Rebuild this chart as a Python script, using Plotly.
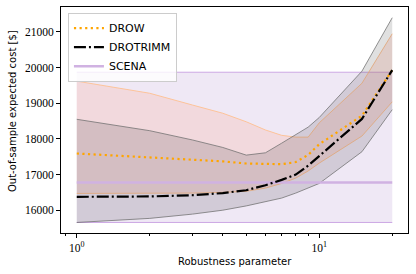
import math
import plotly.graph_objects as go

# ---------------- data ----------------
robustness = [1, 2, 3, 4, 5, 6, 7, 8, 9, 10, 15, 20]

drow_mean = [17590, 17480, 17420, 17370, 17310, 17290, 17290, 17350, 17550, 17850, 18650, 19930]
drow_low = [16470, 16470, 16480, 16500, 16530, 16620, 16750, 16900, 17100, 17320, 18080, 19040]
drow_high = [19620, 19280, 18950, 18720, 18480, 18250, 18100, 18050, 18050, 18450, 19560, 20950]

trimm_mean = [16375, 16385, 16420, 16480, 16560, 16700, 16850, 17000, 17250, 17520, 18560, 19930]
trimm_low = [15655, 15770, 15890, 16000, 16120, 16230, 16340, 16480, 16620, 16750, 17640, 18820]
trimm_high = [18550, 18230, 17970, 17760, 17545, 17610, 17880, 18110, 18330, 18600, 19900, 21400]

scena_mean = [16780] * 12
scena_low = [15655] * 12
scena_high = [19870] * 12

y_ticks = [16000, 17000, 18000, 19000, 20000, 21000]
y_ticktext = ["16000", "17000", "18000", "19000", "20000", "21000"]
x_ticks = [1, 10]
x_ticktext = ["10<sup>0</sup>", "10<sup>1</sup>"]
x_minor = [0.9, 2, 3, 4, 5, 6, 7, 8, 9, 20]

# ---------------- figure ----------------
fig = go.Figure()


def band(x, lo, hi, fill, edge):
    fig.add_trace(go.Scatter(x=x, y=lo, mode="lines", line=dict(color=edge, width=1),
                             showlegend=False, hoverinfo="skip"))
    fig.add_trace(go.Scatter(x=x, y=hi, mode="lines", line=dict(color=edge, width=1),
                             fill="tonexty", fillcolor=fill, showlegend=False, hoverinfo="skip"))


band(robustness, scena_low, scena_high, "rgba(148,103,189,0.15)", "rgba(200,160,225,0.9)")
band(robustness, drow_low, drow_high, "rgba(250,170,150,0.25)", "rgba(255,190,140,0.85)")
band(robustness, trimm_low, trimm_high, "rgba(0,0,0,0.12)", "rgba(110,110,110,0.75)")

fig.add_trace(go.Scatter(x=robustness, y=scena_mean, mode="lines", name="SCENA",
                         line=dict(color="#d0b2e2", width=2.5), legendrank=3))
fig.add_trace(go.Scatter(x=robustness, y=drow_mean, mode="lines", name="DROW",
                         line=dict(color="#ffa500", width=2.2, dash="2.2px,3.4px"), legendrank=1))
fig.add_trace(go.Scatter(x=robustness, y=trimm_mean, mode="lines", name="DROTRIMM",
                         line=dict(color="black", width=2.2, dash="12px,3px,2px,3px"), legendrank=2))

xr = [math.log10(1) - 0.065, math.log10(20) + 0.065]

fig.update_layout(
    width=416, height=274,
    margin=dict(l=61, r=8, t=7, b=41),
    paper_bgcolor="white", plot_bgcolor="white",
    font=dict(family="DejaVu Sans", size=10, color="black"),
    showlegend=True,
    legend=dict(x=0.02, y=0.975, xanchor="left", yanchor="top", traceorder="normal",
                bgcolor="rgba(255,255,255,0.8)", bordercolor="#cccccc", borderwidth=1,
                font=dict(family="DejaVu Sans", size=11), tracegroupgap=0,
                itemwidth=30),
    xaxis=dict(type="log", range=xr, tickvals=x_ticks, ticktext=x_ticktext,
               ticks="outside", ticklen=4, tickwidth=0.8, tickcolor="black",
               minor=dict(tickvals=x_minor, ticks="outside", ticklen=2, tickwidth=0.6, tickcolor="black"),
               showline=True, linecolor="black", linewidth=1, mirror=True,
               showgrid=False, zeroline=False, automargin=False,
               tickfont=dict(family="Liberation Serif", size=11.5)),
    yaxis=dict(range=[15360, 21700], tickvals=y_ticks, ticktext=y_ticktext,
               ticks="outside", ticklen=4, tickwidth=0.8, tickcolor="black",
               showline=True, linecolor="black", linewidth=1, mirror=True,
               showgrid=False, zeroline=False, automargin=False,
               tickfont=dict(family="Liberation Serif", size=11.5)),
    annotations=[
        dict(text="Robustness parameter", xref="paper", yref="paper", x=0.501, y=-0.128,
             xanchor="center", yanchor="middle", showarrow=False,
             font=dict(family="DejaVu Sans", size=10)),
        dict(text="Out-of-sample expected cost [$]", xref="paper", yref="paper", x=-0.138, y=0.54,
             xanchor="center", yanchor="middle", textangle=-90, showarrow=False,
             font=dict(family="DejaVu Sans", size=10)),
    ],
)

fig.write_html("out.html", config={"displayModeBar": False},
               post_script="document.body.style.margin='0px';")
